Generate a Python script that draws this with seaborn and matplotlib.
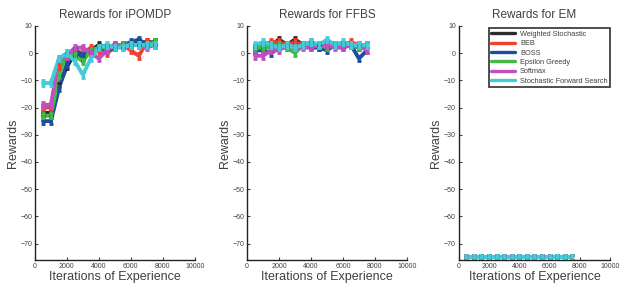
import numpy as np
import pandas as pd
import matplotlib
matplotlib.use("Agg")
import matplotlib.pyplot as plt
import seaborn as sns

# experience checkpoints
iters = [500, 1000, 1500, 2000, 2500, 3000, 3500, 4000, 4500, 5000, 5500, 6000, 6500, 7000, 7500]
methods = ['Weighted Stochastic', 'BEB', 'BOSS', 'Epsilon Greedy', 'Softmax', 'Stochastic Forward Search']
colors = ['#2b2b2b', '#f2412f', '#1c4f9c', '#45b845', '#c14fc1', '#45cbd8']

# iPOMDP rewards
ipomdp_ws = [-22, -22, -12, -5, 0, -2, 1, 3, 2, 3, 3, 3, 4, 4, 4]
ipomdp_beb = [-20, -20, -5, -1, 1, 0, 2, 1, 0, 2, 3, 1, -1, 4, 3]
ipomdp_boss = [-25, -25, -13, -4, 1, -1, 0, 2, 1, 2, 3, 4, 5, 3, 4]
ipomdp_eps = [-23, -23, -8, 0, -1, -3, 1, 2, 2, 3, 3, 3, 3, 3, 4]
ipomdp_soft = [-19, -19, -2, -1, 2, 2, 0, -2, 1, 3, 2, 3, 3, 2, 3]
ipomdp_sfs = [-11, -11, -2, 0, -3, -8, -2, 2, 3, 2, 2, 3, 3, 3, 3]

# FFBS rewards
ffbs_ws = [1, 2, 3, 5, 3, 5, 3, 3, 2, 3, 3, 3, 3, 2, 3]
ffbs_beb = [2, 3, 4, 4, 3, 4, 3, 4, 3, 2, 3, 3, 4, 3, 3]
ffbs_boss = [1, 1, 0, 2, 2, 2, 3, 2, 2, 1, 3, 2, 3, -2, 1]
ffbs_eps = [2, 2, 2, 3, 2, 0, 3, 3, 3, 2, 3, 3, 3, 2, 2]
ffbs_soft = [-1, -1, 1, 1, 3, 2, 2, 2, 3, 3, 2, 2, 3, 3, 1]
ffbs_sfs = [3, 4, 3, 2, 3, 2, 3, 4, 3, 5, 3, 4, 3, 3, 3]

# EM rewards (all flat at the bottom)
em_all = [-75] * 15

err = 1.0

panels = [
    ('Rewards for iPOMDP', [ipomdp_ws, ipomdp_beb, ipomdp_boss, ipomdp_eps, ipomdp_soft, ipomdp_sfs]),
    ('Rewards for FFBS', [ffbs_ws, ffbs_beb, ffbs_boss, ffbs_eps, ffbs_soft, ffbs_sfs]),
    ('Rewards for EM', [em_all] * 6),
]

sns.set_style("ticks")
plt.rcParams['font.family'] = ['Liberation Sans', 'DejaVu Sans']
txt = '#404040'

fig = plt.figure(figsize=(6.24, 3.08), dpi=100)
boxes = [(0.056, 0.256), (0.396, 0.256), (0.735, 0.243)]

for (title, series), (left, width) in zip(panels, boxes):
    ax = fig.add_axes([left, 0.156, width, 0.76])
    rows = []
    for m, vals in zip(methods, series):
        for x, v in zip(iters, vals):
            rows.append({'iter': x, 'reward': v, 'method': m})
    df = pd.DataFrame(rows)
    sns.lineplot(data=df, x='iter', y='reward', hue='method', hue_order=methods,
                 palette=colors, linewidth=2.8, ax=ax, legend=False)
    for m, vals, c in zip(methods, series, colors):
        ax.errorbar(iters, vals, yerr=err, fmt='none', ecolor=c, elinewidth=2.2,
                    capsize=1.5, capthick=2.0)
    ax.set_xlim(0, 10000)
    ax.set_ylim(-76, 10)
    ax.set_xticks([0, 2000, 4000, 6000, 8000, 10000])
    ax.set_yticks([10, 0, -10, -20, -30, -40, -50, -60, -70])
    ax.tick_params(labelsize=5, colors=txt, length=2, width=0.8, direction='in', pad=2)
    for s in ['top', 'right']:
        ax.spines[s].set_visible(False)
    for s in ['left', 'bottom']:
        ax.spines[s].set_linewidth(1.0)
        ax.spines[s].set_color('#222222')
    ax.set_title(title, fontsize=8.5, color=txt, pad=6)
    ax.set_xlabel('Iterations of Experience', fontsize=9, color=txt, labelpad=1)
    ax.set_ylabel('Rewards', fontsize=9, color=txt, labelpad=1)

    if title.endswith('EM'):
        handles = [plt.Line2D([0], [0], color=c, lw=2.4) for c in colors]
        leg = ax.legend(handles, methods, loc='upper right', bbox_to_anchor=(1.0, 0.99),
                        fontsize=5.3, frameon=True, fancybox=False, handlelength=3.2,
                        handletextpad=0.7, labelspacing=0.3, borderpad=0.35,
                        borderaxespad=0)
        leg.get_frame().set_edgecolor('#111111')
        leg.get_frame().set_linewidth(1.3)
        for t in leg.get_texts():
            t.set_color(txt)

fig.savefig('out.png', dpi=100)
